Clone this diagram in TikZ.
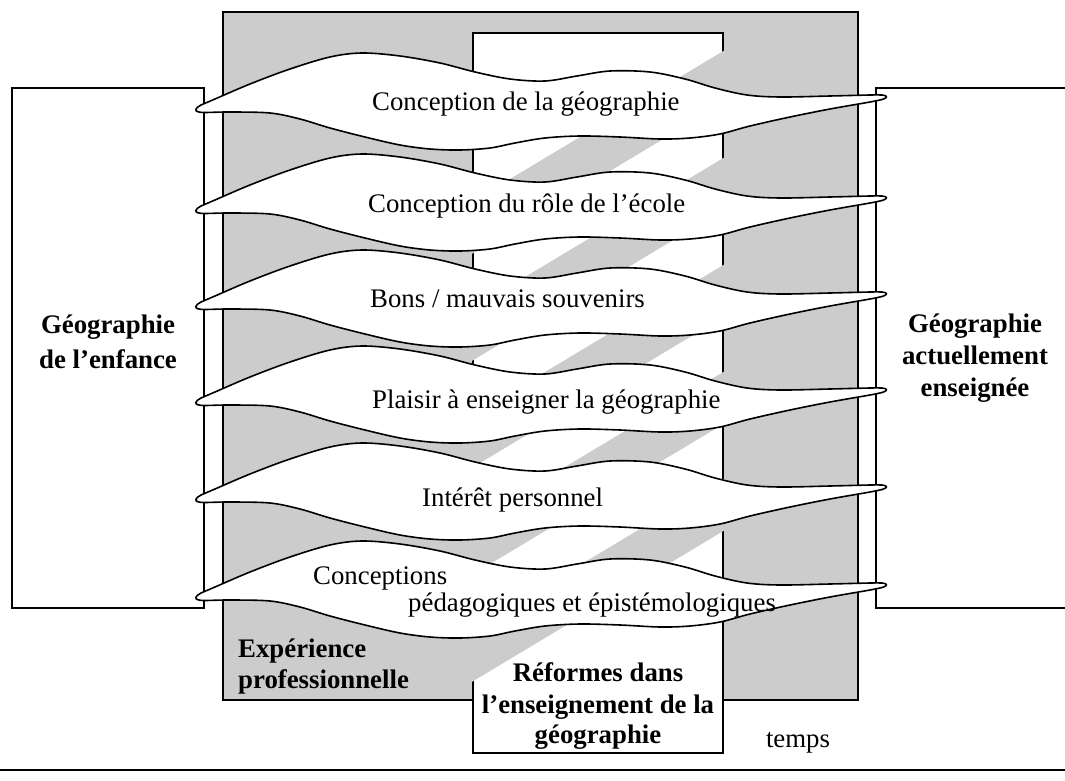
\documentclass[tikz,border=0pt]{standalone}
\usepackage{fontspec}
\setmainfont{Liberation Serif}
\definecolor{panelgray}{RGB}{204,204,204}
\begin{document}
\begin{tikzpicture}[x=1pt,y=-1pt,
  outline/.style={draw=black,line width=1.5pt},
  ribbon/.style={draw=black,line width=1.6pt,fill=white,line join=round},
  lbl/.style={font=\fontsize{26.8}{32}\selectfont,inner sep=0pt},
  boldlbl/.style={font=\fontsize{26.8}{32}\selectfont\bfseries,inner sep=0pt},
]
\useasboundingbox (0,0) rectangle (1065,781);

% side boxes
\draw[outline,fill=white] (12,88) rectangle (204,608);
\fill[white] (876,88) rectangle (1070,608);
\draw[outline] (1070,88) -- (876,88) -- (876,608) -- (1070,608);

% professional experience panel
\draw[outline,fill=panelgray] (223,12) rectangle (858,700);

% column of reforms, with its diagonal shading
\draw[outline,fill=white] (473,33) rectangle (723,753);
\begin{scope}
  \clip (470.5,30) rectangle (725.5,700);
  \foreach \n in {0,...,4} {
    \pgfmathsetmacro{\ka}{485+107*\n}
    \pgfmathsetmacro{\kb}{537+107*\n}
    \fill[panelgray] (440,\ka-264) -- (760,\ka-456) -- (760,\kb-456) -- (440,\kb-264) -- cycle;
  }
\end{scope}

% labels of the boxes
\node[boldlbl,anchor=base] (child1) at (108,333) {Géographie};
\node[boldlbl,anchor=base] (child2) at (108,368) {de l’enfance};
\node[boldlbl,anchor=base] (now1) at (975,332) {Géographie};
\node[boldlbl,anchor=base] (now2) at (975,364) {actuellement};
\node[boldlbl,anchor=base] (now3) at (975,396) {enseignée};
\node[boldlbl,anchor=base west] (exp1) at (238,657) {Expérience};
\node[boldlbl,anchor=base west] (exp2) at (238,688) {professionnelle};
\node[boldlbl,anchor=base] (ref1) at (598,681) {Réformes dans};
\node[boldlbl,anchor=base] (ref2) at (598,713) {l’enseignement de la};
\node[boldlbl,anchor=base] (ref3) at (598,743) {géographie};

% wavy ribbons with rounded tips
\foreach \dy in {0,101,197,293,390,488} {
  \begin{scope}[shift={(0,\dy)}]
    \draw[ribbon] plot[smooth,tension=0.55] coordinates {
      (201,105) (215,99) (250,84) (290,69) (330,57) (362,53) (400,56) (440,63)
      (475,72) (510,79) (545,81) (577,76) (610,71) (650,72) (685,79) (715,88)
      (747,95) (780,97) (830,96) (870,95) (882,95)}
      .. controls (888,95.5) and (888,98) .. (882,99.5)
      -- plot[smooth,tension=0.55] coordinates {
      (882,99.5) (870,102) (830,109) (790,117) (750,126) (720,134) (690,138)
      (660,139) (620,137) (580,136) (545,138) (515,143) (490,148) (460,150)
      (430,149) (400,145) (365,137) (330,128) (300,119) (270,113) (230,112)
      (205,112.5) (199,112)}
      .. controls (194,111.5) and (195,108) .. (201,105)
      -- cycle;
  \end{scope}
}

% ribbon texts
\node[lbl,anchor=base west] (r1) at (372,111) {Conception de la géographie};
\node[lbl,anchor=base west] (r2) at (368,212) {Conception du rôle de l’école};
\node[lbl,anchor=base west] (r3) at (370,307) {Bons / mauvais souvenirs};
\node[lbl,anchor=base west] (r4) at (372,408) {Plaisir à enseigner la géographie};
\node[lbl,anchor=base west] (r5) at (422,506) {Intérêt personnel};
\node[lbl,anchor=base west] (r6a) at (313,584) {Conceptions};
\node[lbl,anchor=base west] (r6b) at (408,611) {pédagogiques et épistémologiques};

% time axis
\node[lbl,anchor=base] (time) at (798,747) {temps};
\draw[line width=1.5pt] (0,770) -- (1065,770);
\end{tikzpicture}
\end{document}
